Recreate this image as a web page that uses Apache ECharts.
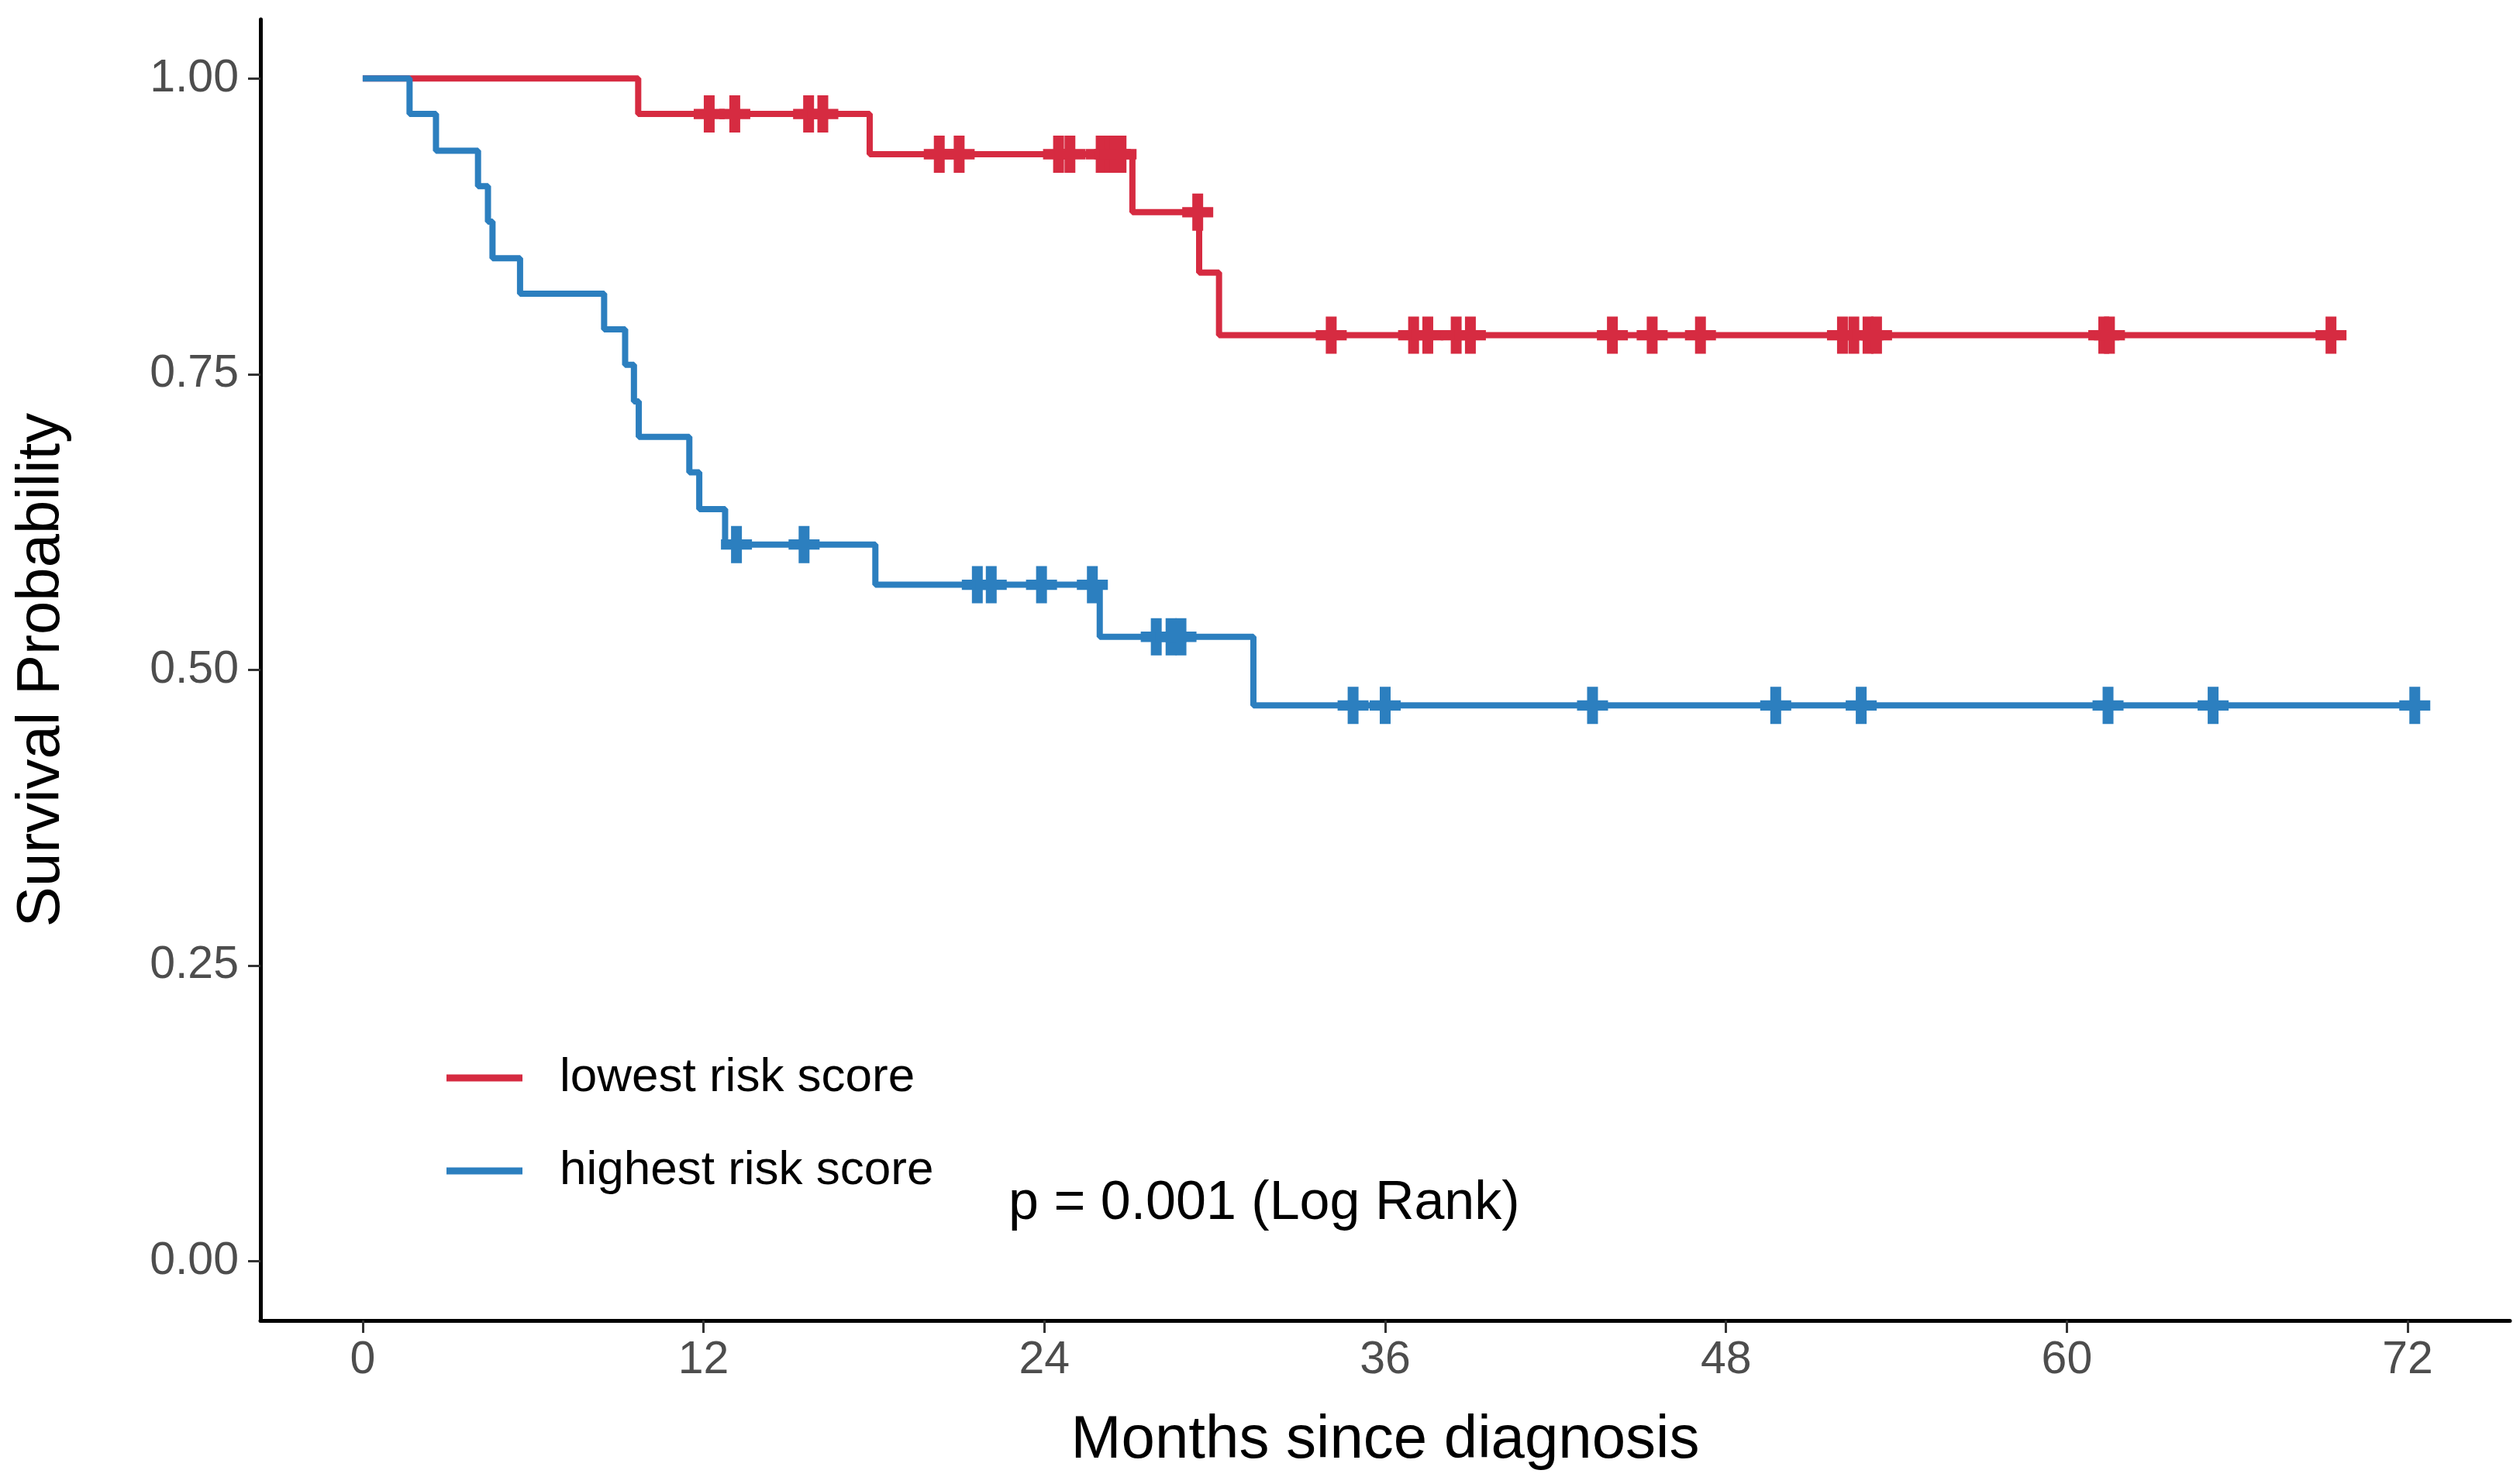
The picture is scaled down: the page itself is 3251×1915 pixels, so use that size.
<!DOCTYPE html>
<html>
<head>
<meta charset="utf-8">
<script src="https://cdn.jsdelivr.net/npm/echarts@6/dist/echarts.min.js"></script>
<style>
html,body{margin:0;padding:0;background:#fff;}
#chart{width:3251px;height:1915px;}
</style>
</head>
<body>
<div id="chart"></div>
<script>
// ---- data ----
const seriesNames = ['lowest risk score', 'highest risk score'];
const seriesColors = ['#D62B41', '#2C7FBF'];

// lowest risk score: step times (months) and survival after each step
const lowTimes = [0, 9.7, 17.85, 27.1, 29.45, 30.15, 69.3];
const lowSurv  = [1.000, 0.970, 0.936, 0.887, 0.836, 0.783, 0.783];
const lowCensor = [12.2, 13.1, 15.7, 16.2, 20.3, 21.0, 24.5, 24.9, 26.0, 26.3, 26.5, 26.7,
                   29.4, 34.1, 37.0, 37.5, 38.5, 39.0, 44.0, 45.4, 47.1, 52.1, 52.5, 53.0,
                   53.3, 61.3, 61.5, 69.3];

// highest risk score
const highTimes = [0, 1.65, 2.58, 4.06, 4.41, 4.57, 5.54, 8.5, 9.24, 9.55, 9.72, 11.5, 11.85,
                   12.76, 18.05, 25.95, 31.36, 72.25];
const highSurv  = [1.000, 0.970, 0.939, 0.909, 0.879, 0.848, 0.818, 0.788, 0.758, 0.727, 0.697,
                   0.667, 0.636, 0.606, 0.572, 0.528, 0.470, 0.470];
const highCensor = [13.16, 15.54, 21.64, 22.13, 23.9, 25.69, 27.94, 28.46, 28.81, 34.87, 36.0,
                    43.3, 49.75, 52.76, 61.45, 65.15, 72.25];

const xTicks = [0, 12, 24, 36, 48, 60, 72];
const yTicks = [0, 0.25, 0.5, 0.75, 1.0];
const pText = 'p = 0.001 (Log Rank)';

// ---- helpers ----
function pairs(t, s) { return t.map((v, i) => [v, s[i]]); }
function levelAt(t, times, surv) {
  let lv = surv[0];
  for (let i = 0; i < times.length; i++) { if (times[i] <= t) lv = surv[i]; }
  return lv;
}
function censorPts(c, times, surv) { return c.map(t => [t, levelAt(t, times, surv)]); }

const FONT = "'Liberation Sans', Arial, Helvetica, sans-serif";
const plus = 'path://M13,0H27V17H40V30H27V47H13V30H0V17H13Z';

const chart = echarts.init(document.getElementById('chart'), null, {renderer: 'canvas'});
chart.setOption({
  animation: false,
  backgroundColor: '#ffffff',
  grid: {left: 336, right: 13, top: 25, bottom: 211, containLabel: false},
  xAxis: {
    type: 'value', min: -3.6, max: 75.6,
    name: 'Months since diagnosis', nameLocation: 'middle', nameGap: 116,
    nameTextStyle: {fontFamily: FONT, fontSize: 78, color: '#000'},
    axisLine: {show: true, onZero: false, lineStyle: {color: '#000', width: 5}},
    axisTick: {show: true, customValues: xTicks, length: 16, lineStyle: {color: '#333', width: 3}},
    axisLabel: {customValues: xTicks, fontFamily: FONT, fontSize: 59, color: '#4D4D4D', margin: 22},
    splitLine: {show: false}
  },
  yAxis: {
    type: 'value', min: -0.05, max: 1.05,
    name: 'Survival Probability', nameLocation: 'middle', nameGap: 243,
    nameTextStyle: {fontFamily: FONT, fontSize: 78, color: '#000'},
    axisLine: {show: true, onZero: false, lineStyle: {color: '#000', width: 5}},
    axisTick: {show: true, customValues: yTicks, length: 16, lineStyle: {color: '#333', width: 3}},
    axisLabel: {customValues: yTicks, fontFamily: FONT, fontSize: 59, color: '#4D4D4D', margin: 28,
                formatter: v => v.toFixed(2)},
    splitLine: {show: false}
  },
  legend: {
    data: seriesNames.map(n => ({name: n, icon: 'rect'})),
    orient: 'vertical', left: 576, top: 1360, padding: 0,
    itemWidth: 98, itemHeight: 9, itemGap: 58,
    textStyle: {fontFamily: FONT, fontSize: 62, color: '#000', lineHeight: 62, padding: [0, 0, 0, 43]}
  },
  series: [
    {name: seriesNames[0], type: 'line', step: 'end', showSymbol: false, z: 3,
     data: pairs(lowTimes, lowSurv), color: seriesColors[0],
     lineStyle: {width: 8, color: seriesColors[0]}},
    {name: seriesNames[1], type: 'line', step: 'end', showSymbol: false, z: 3,
     data: pairs(highTimes, highSurv), color: seriesColors[1],
     lineStyle: {width: 8, color: seriesColors[1]}},
    {name: 'censor-low', type: 'scatter', symbol: plus, symbolSize: [40, 48], z: 4,
     data: censorPts(lowCensor, lowTimes, lowSurv), itemStyle: {color: seriesColors[0], opacity: 1}},
    {name: 'censor-high', type: 'scatter', symbol: plus, symbolSize: [40, 48], z: 4,
     data: censorPts(highCensor, highTimes, highSurv), itemStyle: {color: seriesColors[1], opacity: 1}}
  ],
  graphic: [{
    type: 'text', left: 1301, top: 1554 - 35,
    style: {text: pText, font: '70px ' + FONT, fill: '#000'}
  }]
});
</script>
</body>
</html>
